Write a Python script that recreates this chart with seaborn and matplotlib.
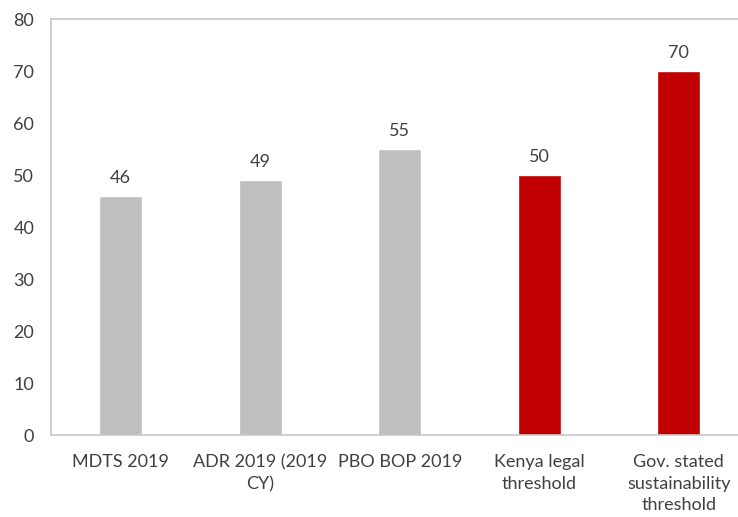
import matplotlib

matplotlib.use("Agg")
import matplotlib.pyplot as plt
import pandas as pd
import seaborn as sns

# Data
categories = [
    "MDTS 2019",
    "ADR 2019 (2019\nCY)",
    "PBO BOP 2019",
    "Kenya legal\nthreshold",
    "Gov. stated\nsustainability\nthreshold",
]
values = [46, 49, 55, 50, 70]
groups = ["estimate", "estimate", "estimate", "threshold", "threshold"]

palette = {"estimate": "#BFBFBF", "threshold": "#C00000"}
text_color = "#404040"
line_color = "#C8C8C8"

sns.set_style("white")
plt.rcParams["font.family"] = ["Lato", "DejaVu Sans"]

df = pd.DataFrame({"category": categories, "value": values, "group": groups})

fig = plt.figure(figsize=(7.38, 5.17), dpi=100)
ax = fig.add_axes([51 / 738, 1 - 435 / 517, 697.5 / 738, 416 / 517])

sns.barplot(
    data=df,
    x="category",
    y="value",
    hue="group",
    palette=palette,
    saturation=1,
    dodge=False,
    width=0.31,
    legend=False,
    ax=ax,
)

for container in ax.containers:
    ax.bar_label(container, fmt="%d", padding=7, fontsize=13, color=text_color)

ax.set_xlim(-0.5, 4.5)
ax.set_ylim(0, 80)
ax.set_yticks(range(0, 81, 10))
ax.set_xlabel("")
ax.set_ylabel("")
ax.tick_params(axis="y", length=0, pad=12, labelsize=13, labelcolor=text_color)
ax.tick_params(axis="x", length=0, pad=14, labelsize=13, labelcolor=text_color)
for lbl in ax.get_xticklabels():
    lbl.set_linespacing(1.4)

for side in ["left", "top", "bottom"]:
    ax.spines[side].set_color(line_color)
    ax.spines[side].set_linewidth(1.2)
ax.spines["right"].set_visible(False)

fig.savefig("out.png", dpi=100)
